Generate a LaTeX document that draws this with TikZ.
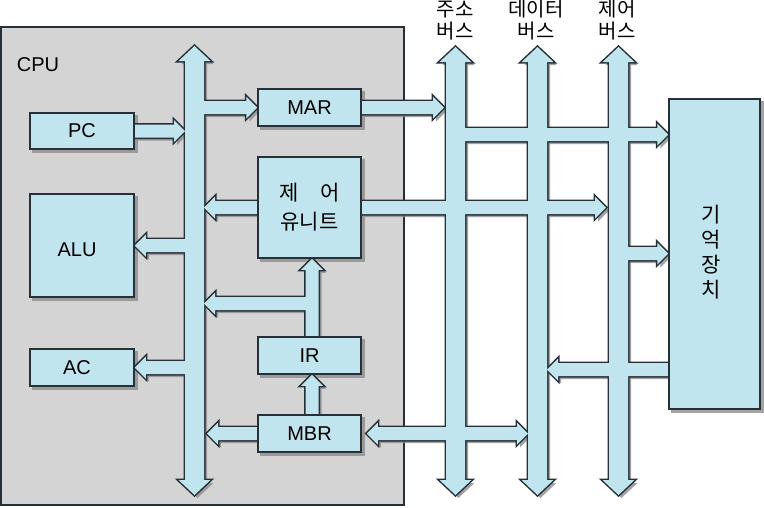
\documentclass[tikz,border=0pt]{standalone}
\usepackage{fontspec}
\setmainfont{Liberation Sans}
\newfontfamily\kr{Noto Sans CJK KR}
\usetikzlibrary{calc}
\definecolor{fillc}{HTML}{C1E5EF}
\definecolor{cpuc}{HTML}{D4D4D4}
\definecolor{bordc}{HTML}{263036}
\definecolor{shadowc}{HTML}{8C8C8C}
\pgfdeclarelayer{cpu}
\pgfdeclarelayer{shadow}
\pgfdeclarelayer{outl}
\pgfdeclarelayer{afill}
\pgfsetlayers{cpu,shadow,outl,afill,main}
\newcommand\blockarrow[1]{%
  \begin{pgfonlayer}{shadow}\fill[shadowc,opacity=0.8,transform canvas={xshift=3pt,yshift=-3pt}] #1;\end{pgfonlayer}%
  \begin{pgfonlayer}{outl}\draw[bordc,line width=3pt,line join=miter] #1;\end{pgfonlayer}%
  \begin{pgfonlayer}{afill}\fill[fillc] #1;\end{pgfonlayer}}
% horizontal arrow: start #1, tip at x of #2, direction #3 (1 right, -1 left)
\newcommand\harr[3]{\blockarrow{let \p1=(#1),\p2=(#2) in
 (\x1,{\y1+6.5pt}) -- ({\x2-(#3)*11pt},{\y1+6.5pt}) -- ({\x2-(#3)*11pt},{\y1+11pt}) -- (\x2,\y1)
 -- ({\x2-(#3)*11pt},{\y1-11pt}) -- ({\x2-(#3)*11pt},{\y1-6.5pt}) -- (\x1,{\y1-6.5pt})}}
% vertical up arrow: start #1, tip at y of #2
\newcommand\uarr[2]{\blockarrow{let \p1=(#1),\p2=(#2) in
 ({\x1-6.5pt},\y1) -- ({\x1-6.5pt},{\y2-11pt}) -- ({\x1-11pt},{\y2-11pt}) -- (\x1,\y2)
 -- ({\x1+11pt},{\y2-11pt}) -- ({\x1+6.5pt},{\y2-11pt}) -- ({\x1+6.5pt},\y1)}}
% vertical double bus from top tip #1 to bottom tip #2
\newcommand\vbus[2]{\blockarrow{let \p1=(#1),\p2=(#2) in
 (\x1,\y1) -- ({\x1+16pt},{\y1-15pt}) -- ({\x1+9.5pt},{\y1-15pt}) -- ({\x1+9.5pt},{\y2+15pt})
 -- ({\x1+16pt},{\y2+15pt}) -- (\x1,\y2) -- ({\x1-16pt},{\y2+15pt}) -- ({\x1-9.5pt},{\y2+15pt})
 -- ({\x1-9.5pt},{\y1-15pt}) -- ({\x1-16pt},{\y1-15pt}) -- cycle}}
% horizontal double arrow from left tip #1 to right tip at x of #2
\newcommand\hdarr[2]{\blockarrow{let \p1=(#1),\p2=(#2) in
 (\x1,\y1) -- ({\x1+11pt},{\y1+11pt}) -- ({\x1+11pt},{\y1+6.5pt}) -- ({\x2-11pt},{\y1+6.5pt})
 -- ({\x2-11pt},{\y1+11pt}) -- (\x2,\y1) -- ({\x2-11pt},{\y1-11pt}) -- ({\x2-11pt},{\y1-6.5pt})
 -- ({\x1+11pt},{\y1-6.5pt}) -- ({\x1+11pt},{\y1-11pt}) -- cycle}}
\tikzset{
  box/.style={draw=bordc,fill=fillc,line width=1.5pt,inner sep=0pt,
    font=\fontsize{20}{22}\selectfont},
  txt/.style={inner sep=0pt,font=\fontsize{20}{22}\selectfont},
  krlab/.style={font=\kr\fontsize{20}{22}\selectfont,align=center,inner sep=0pt},
}
\newcommand\boxshadow[1]{\begin{pgfonlayer}{shadow}\fill[shadowc,opacity=0.8,transform canvas={xshift=3pt,yshift=-3pt}] (#1.south west) rectangle (#1.north east);\end{pgfonlayer}}
\begin{document}
\begin{tikzpicture}[x=1pt,y=-1pt]
\useasboundingbox (0,0) rectangle (764,507);
\begin{pgfonlayer}{cpu}
\draw[line width=1.5pt,draw=bordc,fill=cpuc] (1,27) rectangle (404,505);
\end{pgfonlayer}
\node[txt] (cpulab) at (38,64.5) {CPU};
% boxes
\node[box,minimum width=104pt,minimum height=36pt] (PC) at (82,131) {PC};
\node[box,minimum width=104pt,minimum height=103pt] (ALU) at (82,245.5) {};
\node[txt] (alulab) at (77,250) {ALU};
\node[box,minimum width=104pt,minimum height=37pt] (AC) at (82,367.5) {};
\node[txt] (aclab) at (77,368) {AC};
\node[box,minimum width=103pt,minimum height=37pt] (MAR) at (309.5,107.5) {MAR};
\node[box,minimum width=103pt,minimum height=101pt,align=center,font=\kr\fontsize{21}{29}\selectfont] (CU) at (309.5,207.5) {제\hspace{1em}어\\유니트};
\node[box,minimum width=103pt,minimum height=37pt] (IR) at (309.5,355.5) {IR};
\node[box,minimum width=103pt,minimum height=37pt] (MBR) at (309.5,433.5) {MBR};
\node[box,minimum width=91pt,minimum height=310pt] (MEM) at (714.5,254) {};
\node[krlab,font=\kr\fontsize{21}{25}\selectfont] (memlab) at (711,252) {기\\억\\장\\치};
\foreach \b in {PC,ALU,AC,MAR,CU,IR,MBR,MEM} {\boxshadow{\b}}
% bus labels
\node[krlab] (ablab) at (455,20.5) {주소\\버스};
\node[krlab] (dblab) at (536,20.5) {데이터\\버스};
\node[krlab] (cblab) at (617,20.5) {제어\\버스};
% bus coordinates
\coordinate (ibT) at (194.5,46);  \coordinate (ibB) at (194.5,495);
\coordinate (ibL) at (185,0);     \coordinate (ibR) at (204,0);
\coordinate (abT) at (455.5,47);  \coordinate (abB) at (455.5,495);
\coordinate (abL) at (446,0);     \coordinate (abR) at (465,0);
\coordinate (dbT) at (537.5,47);  \coordinate (dbB) at (537.5,495);
\coordinate (dbL) at (528,0);     \coordinate (dbR) at (547,0);
\coordinate (cbT) at (618.5,47);  \coordinate (cbB) at (618.5,495);
\coordinate (cbL) at (609,0);     \coordinate (cbR) at (628,0);
\coordinate (br)  at (312,303.5);
\coordinate (a2m) at (455.5,134.5);
\coordinate (c2m) at (618.5,253.5);
\coordinate (mdy) at (0,369.5);
% buses
\vbus{ibT}{ibB}
\vbus{abT}{abB}
\vbus{dbT}{dbB}
\vbus{cbT}{cbB}
% internal arrows
\harr{PC.east}{ibL}{1}
\harr{ibT |- MAR.west}{MAR.west}{1}
\harr{CU.west}{ibR}{-1}
\harr{ibT |- ALU.east}{ALU.east}{-1}
\harr{ibT |- AC.east}{AC.east}{-1}
\uarr{[xshift=2.5pt]IR.north}{CU.south}
\harr{br}{ibR}{-1}
\uarr{[xshift=2.5pt]MBR.north}{IR.south}
\harr{MBR.west}{[xshift=3pt]ibR}{-1}
% external arrows
\hdarr{[xshift=5pt]MBR.east}{dbL}
\harr{MAR.east}{[xshift=-2pt]abL}{1}
\harr{a2m}{MEM.west}{1}
\harr{CU.east}{[xshift=-3pt]cbL}{1}
\harr{c2m}{MEM.west}{1}
\harr{MEM.west |- mdy}{dbR}{-1}
\end{tikzpicture}
\end{document}
